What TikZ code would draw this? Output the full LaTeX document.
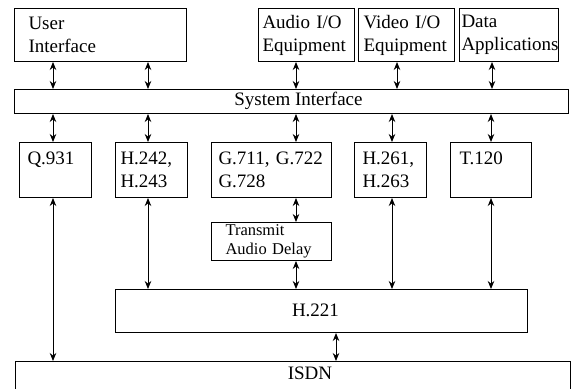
\documentclass[tikz,border=0pt]{standalone}
\usepackage{fontspec}
\setmainfont{Liberation Serif}
\usetikzlibrary{arrows.meta,positioning}
\tikzset{>={Stealth[length=8pt,width=6.5pt]}}
\tikzset{
  blk/.style={draw, line width=1pt, anchor=north west, align=left, inner ysep=0pt,
    font=\fontsize{19}{23}\selectfont},
  lbl/.style={font=\fontsize{19}{23}\selectfont, inner sep=0pt},
  link/.style={<->, line width=0.9pt}
}
\begin{document}
\begin{tikzpicture}[x=1pt,y=-1pt]
\useasboundingbox (0,0) rectangle (577,388);
% top row
\node[blk, minimum height=53pt, text width=144pt, inner xsep=14pt] (ui) at (14,8) {User\\Interface};
\node[blk, minimum height=53pt, text width=88pt, inner xsep=4pt] (aio) at (258,8) {Audio I/O\\Equipment};
\node[blk, minimum height=53pt, text width=86pt, inner xsep=5pt] (vio) at (358,8) {Video I/O\\Equipment};
\node[blk, minimum height=53pt, text width=95pt, inner xsep=2pt] (dat) at (459,8) {Data\\Applications};
% system interface
\node[blk, minimum height=24pt, text width=554pt, inner xsep=0pt] (sys) at (14,89) {};
\node[lbl] (syslbl) at (298.5,101) {System Interface};
% second row
\node[blk, minimum height=55pt, text width=56pt, inner xsep=8pt] (q931) at (19,142) {Q.931\\\mbox{}};
\node[blk, minimum height=55pt, text width=62pt, inner xsep=5pt] (h242) at (115,142) {H.242,\\H.243};
\node[blk, minimum height=55pt, text width=106pt, inner xsep=7pt] (g711) at (211,142) {G.711, G.722\\G.728};
\node[blk, minimum height=55pt, text width=56pt, inner xsep=8pt] (h261) at (354,142) {H.261,\\H.263};
\node[blk, minimum height=55pt, text width=63pt, inner xsep=9pt] (t120) at (450,142) {T.120\\\mbox{}};
% delay
\node[blk, minimum height=38pt, text width=92pt, inner xsep=14pt, font=\fontsize{16.5}{18.5}\selectfont] (tad) at (211,222) {Transmit\\Audio Delay};
% H.221 and ISDN
\node[blk, minimum height=43pt, text width=412pt, inner xsep=0pt] (h221) at (115,289) {};
\node[lbl] (h221lbl) at (315.5,310.5) {H.221};
\node[blk, minimum height=35pt, text width=555pt, inner xsep=0pt] (isdn) at (15,361) {};
\node[lbl] (isdnlbl) at (310,373.5) {ISDN};

% connectors
\draw[link] (ui.south -| 53,0) -- (sys.north -| 53,0);
\draw[link] (ui.south -| 148,0) -- (sys.north -| 148,0);
\draw[link] (aio.south -| 296,0) -- (sys.north -| 296,0);
\draw[link] (vio.south -| 397,0) -- (sys.north -| 397,0);
\draw[link] (dat.south -| 492,0) -- (sys.north -| 492,0);
\draw[link] (sys.south -| 53,0) -- (q931.north -| 53,0);
\draw[link] (sys.south -| 148,0) -- (h242.north -| 148,0);
\draw[link] (sys.south -| 296,0) -- (g711.north -| 296,0);
\draw[link] (sys.south -| 392,0) -- (h261.north -| 392,0);
\draw[link] (sys.south -| 491,0) -- (t120.north -| 491,0);
\draw[link] (q931.south -| 53,0) -- (isdn.north -| 53,0);
\draw[link] (h242.south -| 148,0) -- (h221.north -| 148,0);
\draw[link] (g711.south -| 296,0) -- (tad.north -| 296,0);
\draw[link] (tad.south -| 296,0) -- (h221.north -| 296,0);
\draw[link] (h261.south -| 392,0) -- (h221.north -| 392,0);
\draw[link] (t120.south -| 491,0) -- (h221.north -| 491,0);
\draw[link] (h221.south -| 336,0) -- (isdn.north -| 336,0);
\end{tikzpicture}
\end{document}
